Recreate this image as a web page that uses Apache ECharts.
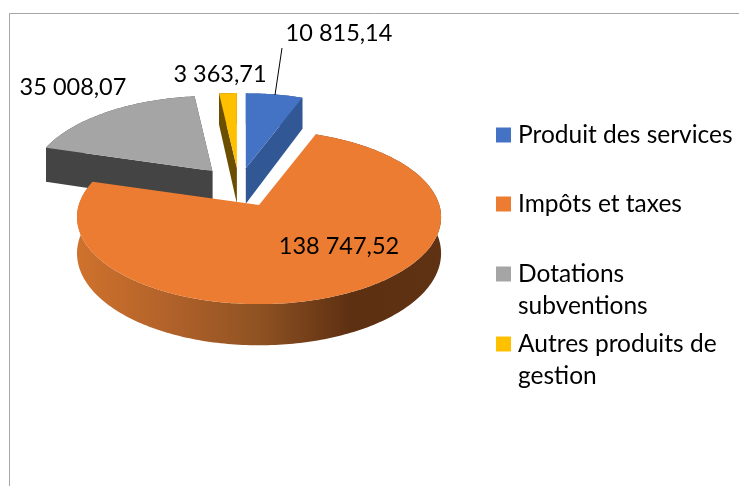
<!DOCTYPE html>
<html>
<head>
<meta charset="utf-8">
<style>
  html, body { margin: 0; padding: 0; background: #fff; }
  #chart { width: 739px; height: 486px; }
</style>
</head>
<body>
<div id="chart"></div>
<script src="https://cdn.jsdelivr.net/npm/echarts@6/dist/echarts.min.js"></script>
<script>
const categories = ['Produit des services', 'Impôts et taxes', 'Dotations subventions', 'Autres produits de gestion'];
const values = [10815.14, 138747.52, 35008.07, 3363.71];

const colors = ['#4472C4', '#EB7C31', '#A5A5A5', '#FFC000'];
const faceColors = ['#315895', '#8f5222', '#444444', '#6b4e00'];
const explode = [0.21, 0.25, 0.23, 0.21];
const labelPos = [[339, 33], [339, 246], [73, 87], [220, 74]];
const legendTop = [119, 188, 226, 296];
const legendText = {
    'Dotations subventions': '\nDotations\nsubventions',
    'Autres produits de gestion': '\nAutres produits de\ngestion'
};

// fake 3D pie: a flat disc seen through a simple perspective
const center = [239, 186];
const radX = 180.3, radY = 85.35, persp = 0.138, depth = 35.5;
const font = 'Lato';
const labelSize = 23.5;
const legendSize = 24.5;

const total = values.reduce((a, b) => a + b, 0);
const starts = [];
values.reduce((sum, v, i) => {
    starts[i] = sum / total * Math.PI * 2;
    return sum + v;
}, 0);

function formatValue(v) {
    return v.toFixed(2).replace('.', ',').replace(/\B(?=(\d{3})(?!\d))/g, ' ');
}

function project(apex, t, down) {
    const d = 1 + persp * Math.cos(t);
    return [
        apex[0] + radX * Math.sin(t) / d,
        apex[1] - radY * Math.cos(t) / d + (down ? depth / d : 0)
    ];
}

function renderSlice(i) {
    const a0 = starts[i];
    const a1 = a0 + values[i] / total * Math.PI * 2;
    const mid = (a0 + a1) / 2;
    const apex = [
        center[0] + explode[i] * radX * Math.sin(mid),
        center[1] - explode[i] * radY * Math.cos(mid)
    ];
    const apexLow = [apex[0], apex[1] + depth];
    const steps = Math.max(2, Math.ceil((a1 - a0) * 180 / Math.PI));
    const rim = [], rimLow = [];
    for (let s = 0; s <= steps; s++) {
        const t = a0 + (a1 - a0) * s / steps;
        rim.push(project(apex, t, false));
        rimLow.push(project(apex, t, true));
    }
    const wallFill = i === 1
        ? new echarts.graphic.LinearGradient(0, 0, 1, 0, [
            {offset: 0, color: '#cf722d'},
            {offset: 0.25, color: '#b2622a'},
            {offset: 0.5, color: '#8f5222'},
            {offset: 0.75, color: '#5e3012'},
            {offset: 1, color: '#5e3213'}
        ])
        : faceColors[i];
    const children = [
        {type: 'polygon', shape: {points: rim.concat(rimLow.slice().reverse())}, style: {fill: wallFill}},
        {type: 'polygon', shape: {points: [apex, rim[0], rimLow[0], apexLow]}, style: {fill: i === 1 ? 'none' : faceColors[i]}},
        {type: 'polygon', shape: {points: [apex, rim[steps], rimLow[steps], apexLow]}, style: {fill: i === 1 ? 'none' : faceColors[i]}},
        {type: 'polygon', shape: {points: [apex].concat(rim)}, style: {fill: colors[i]}},
        {
            type: 'text',
            z2: 10,
            style: {
                x: labelPos[i][0], y: labelPos[i][1],
                text: formatValue(values[i]),
                fill: '#000', font: labelSize + 'px ' + font,
                align: 'center', verticalAlign: 'middle'
            }
        }
    ];
    if (i === 0) {
        // leader line of the first label
        children.push({type: 'line', shape: {x1: 282, y1: 48, x2: 275, y2: 95}, style: {stroke: '#000', lineWidth: 1}});
    }
    return {type: 'group', children: children};
}

const chart = echarts.init(document.getElementById('chart'));
chart.setOption({
    animation: false,
    backgroundColor: '#fff',
    graphic: [{
        type: 'rect',
        shape: {x: 9.5, y: 13.5, width: 900, height: 700},
        style: {fill: 'none', stroke: '#a6a6a6', lineWidth: 1}
    }],
    legend: categories.map((name, i) => ({
        data: [name],
        left: 496,
        top: legendTop[i],
        icon: 'rect',
        itemWidth: 15,
        itemHeight: 15,
        itemGap: 0,
        padding: 0,
        selectedMode: false,
        formatter: n => legendText[n] || n,
        textStyle: {fontFamily: font, fontSize: legendSize, lineHeight: 32, color: '#000', padding: [0, 0, 0, 2]}
    })),
    series: categories.map((name, i) => ({
        type: 'custom',
        name: name,
        coordinateSystem: 'none',
        silent: true,
        // the big slice sits in front of the walls of the others
        z: i === 1 ? 3 : 2,
        itemStyle: {color: colors[i]},
        data: [values[i]],
        renderItem: () => renderSlice(i)
    }))
});
</script>
</body>
</html>
